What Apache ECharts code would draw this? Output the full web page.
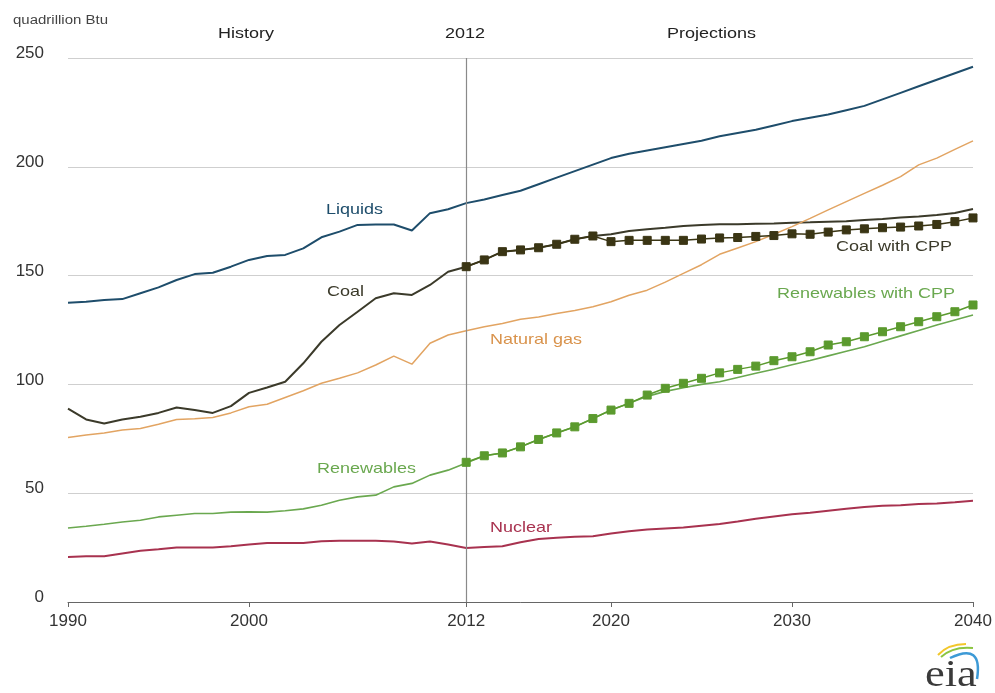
<!DOCTYPE html>
<html>
<head>
<meta charset="utf-8">
<script src="https://cdn.jsdelivr.net/npm/echarts@6/dist/echarts.min.js"></script>
<style>
html,body{margin:0;padding:0;background:#fff;}
#chart{width:995px;height:693px;}
</style>
</head>
<body>
<div id="chart"></div>
<script>
// ---- Data ----
var years = [];
for (var y = 1990; y <= 2040; y++) years.push(String(y));
var tickYears = ['1990', '2000', '2012', '2020', '2030', '2040'];
var yTicks = [0, 50, 100, 150, 200, 250];

// History 1990-2012
var liquidsHist = [137.5, 138, 138.8, 139.2, 141.9, 144.6, 148, 150.7, 151.3, 154.1, 157.2, 159, 159.5, 162.5, 167.6, 170.2, 173.3, 173.5, 173.5, 170.7, 178.7, 180.5, 183.3];
var coalHist = [88.9, 83.9, 82, 83.9, 85.1, 86.9, 89.4, 88.2, 86.9, 90, 96.1, 98.6, 101.2, 109.7, 119.6, 127.3, 133.4, 139.6, 141.9, 141.1, 145.7, 151.8, 154.1];
var gasHist = [75.6, 76.7, 77.7, 79, 79.7, 81.7, 83.9, 84.2, 84.8, 86.9, 89.7, 90.9, 94, 97.1, 100.5, 102.8, 105.3, 108.9, 113, 109.3, 118.9, 122.7, 124.7];
var renewHist = [34, 34.8, 35.7, 36.8, 37.6, 39.1, 39.9, 40.7, 40.7, 41.3, 41.4, 41.3, 41.9, 42.8, 44.5, 46.8, 48.3, 49.1, 52.9, 54.5, 58.3, 60.6, 63.9];
var nuclearHist = [20.7, 21, 21, 22.3, 23.5, 24.2, 25, 25, 25, 25.6, 26.4, 27.1, 27.1, 27.1, 27.9, 28.1, 28.1, 28.1, 27.8, 26.9, 27.8, 26.4, 24.8];

// Projections 2013-2040
var liquidsProj = [185, 187, 189, 192, 195, 198, 201, 204, 206, 207.5, 209, 210.5, 212, 214, 215.5, 217, 219, 221, 222.5, 224, 226, 228, 231, 234, 237, 240, 243, 246];
var coalProj = [157.2, 161, 161.8, 162.8, 164.4, 166.7, 168.2, 169, 170.5, 171.3, 172, 172.8, 173.3, 173.6, 173.6, 173.8, 174, 174.3, 174.5, 174.8, 175, 175.6, 176, 176.7, 177.2, 177.9, 178.8, 180.6];
var gasProj = [126.5, 128, 129.9, 131, 132.6, 134, 135.7, 138, 141, 143.3, 147, 151, 155, 159.8, 162.7, 165.6, 169, 172.5, 176.3, 180.2, 184, 187.8, 191.5, 195.5, 200.9, 204, 208, 211.9];
var renewProj = [67.2, 68.5, 71.3, 74.7, 77.7, 80.5, 84.3, 88.2, 91.3, 94.5, 96.8, 98.5, 100, 101.2, 103.2, 105.1, 107, 109, 111, 113.1, 115.2, 117.3, 119.8, 122.3, 124.8, 127.3, 129.6, 131.9];
var nuclearProj = [25.3, 25.6, 27.5, 29, 29.5, 30, 30.2, 31.5, 32.5, 33.3, 33.8, 34.2, 35, 35.8, 37, 38.3, 39.3, 40.3, 41, 41.9, 42.8, 43.7, 44.2, 44.5, 45, 45.3, 45.8, 46.5];

// Clean Power Plan cases 2012-2040
var coalCPP = [154.1, 157.2, 161, 161.8, 162.8, 164.4, 166.7, 168.2, 165.6, 166.2, 166.2, 166.2, 166.2, 166.8, 167.3, 167.5, 168, 168.4, 169.2, 169, 170, 171, 171.5, 172, 172.3, 172.8, 173.5, 174.8, 176.5];
var renewCPP = [64.2, 67.2, 68.5, 71.3, 74.7, 77.7, 80.5, 84.3, 88.2, 91.3, 95.1, 98.2, 100.5, 102.8, 105.3, 106.9, 108.4, 110.9, 112.7, 115, 118.1, 119.6, 121.9, 124.2, 126.5, 128.8, 131.1, 133.4, 136.5];

// ---- Build ----
function pad(arr) {
  var out = [];
  for (var i = 0; i < years.length - arr.length; i++) out.push(null);
  return out.concat(arr);
}
var liquids = liquidsHist.concat(liquidsProj);
var coal = coalHist.concat(coalProj);
var gas = gasHist.concat(gasProj);
var renew = renewHist.concat(renewProj);
var nuclear = nuclearHist.concat(nuclearProj);

var C = {
  liquids: '#1e4d6b',
  coal: '#3b3a2a',
  gas: '#e2a462',
  renew: '#6aa84f',
  nuclear: '#a8324f',
  coalCPP: '#3a3514',
  renewCPP: '#5b9a2e'
};

var font = 'Liberation Sans, Arial, sans-serif';
var chart = echarts.init(document.getElementById('chart'));

function lineSeries(name, data, color, width, z) {
  return {
    name: name, type: 'line', data: data, symbol: 'none', z: z || 2,
    lineStyle: { color: color, width: width }, itemStyle: { color: color },
    animation: false
  };
}
function cppSeries(name, data, color, z) {
  return {
    name: name, type: 'line', data: pad(data), symbol: 'rect', symbolSize: 8,
    showSymbol: true, z: z,
    lineStyle: { color: color, width: 1.5 },
    itemStyle: { color: color, borderColor: color },
    animation: false
  };
}

// text label: x = left edge, y = vertical centre; slightly widened like the reference
function txt(x, y, text, color, size) {
  return {
    type: 'text', x: x, y: y, scaleX: 1.2, z: 20,
    style: { text: text, fill: color, font: (size || 15) + 'px ' + font, align: 'left', verticalAlign: 'middle' }
  };
}

var option = {
  backgroundColor: '#ffffff',
  animation: false,
  grid: { left: 68, right: 22, top: 58, bottom: 91, containLabel: false },
  xAxis: {
    type: 'category', data: years, boundaryGap: false,
    axisLine: { lineStyle: { color: '#666', width: 1 } },
    axisTick: {
      length: 5, lineStyle: { color: '#666' },
      interval: function (i, v) { return tickYears.indexOf(v) >= 0; }
    },
    axisLabel: {
      interval: function (i, v) { return tickYears.indexOf(v) >= 0; },
      color: '#333', fontSize: 17, fontFamily: font, margin: 11
    },
    splitLine: { show: false }
  },
  yAxis: {
    type: 'value', min: 0, max: 250, interval: 50,
    axisLine: { show: false }, axisTick: { show: false },
    axisLabel: {
      color: '#333', fontSize: 17, fontFamily: font, margin: 24,
      verticalAlign: 'bottom', lineHeight: 9,
      formatter: function (v) { return yTicks.indexOf(v) >= 0 ? String(v) : ''; }
    },
    splitLine: { lineStyle: { color: '#cfcfcf', width: 1.2 } }
  },
  series: [
    (function () {
      var s = lineSeries('Liquids', liquids, C.liquids, 2, 3);
      s.markLine = {
        silent: true, symbol: 'none', label: { show: false },
        lineStyle: { color: '#8a8a8a', width: 1.2, type: 'solid' },
        data: [{ xAxis: '2012' }]
      };
      return s;
    })(),
    lineSeries('Coal', coal, C.coal, 2, 3),
    lineSeries('Natural gas', gas, C.gas, 1.5, 3),
    lineSeries('Renewables', renew, C.renew, 1.6, 3),
    lineSeries('Nuclear', nuclear, C.nuclear, 2, 3),
    cppSeries('Coal with CPP', coalCPP, C.coalCPP, 5),
    cppSeries('Renewables with CPP', renewCPP, C.renewCPP, 5)
  ],
  graphic: [
    txt(13, 21, 'quadrillion Btu', '#444', 12.5),
    txt(218, 34, 'History', '#222', 15),
    txt(445, 34, '2012', '#222', 15),
    txt(667, 34, 'Projections', '#222', 15),
    txt(326, 210, 'Liquids', C.liquids, 15),
    txt(327, 292, 'Coal', C.coal, 15),
    txt(490, 340, 'Natural gas', '#d9934c', 15),
    txt(317, 469, 'Renewables', C.renew, 15),
    txt(490, 528, 'Nuclear', C.nuclear, 15),
    txt(836, 247, 'Coal with CPP', C.coal, 15),
    txt(777, 294, 'Renewables with CPP', C.renew, 15),
    // eia logo
    {
      type: 'bezierCurve', z: 20,
      shape: { x1: 938, y1: 655, x2: 966, y2: 644, cpx1: 948, cpy1: 644 },
      style: { stroke: '#f2c72b', lineWidth: 2, fill: null }
    },
    {
      type: 'bezierCurve', z: 20,
      shape: { x1: 941, y1: 657, x2: 973, y2: 648, cpx1: 953, cpy1: 646 },
      style: { stroke: '#8cc540', lineWidth: 2, fill: null }
    },
    {
      type: 'bezierCurve', z: 20,
      shape: { x1: 950, y1: 658, x2: 977, y2: 679, cpx1: 983, cpy1: 642 },
      style: { stroke: '#3d9ad6', lineWidth: 2.5, fill: null }
    },
    {
      type: 'text', x: 925, y: 676, scaleX: 1.2, z: 21,
      style: { text: 'eia', fill: '#3a3a3a', font: '37px "Liberation Serif", serif', align: 'left', verticalAlign: 'middle' }
    }
  ]
};
chart.setOption(option);
</script>
</body>
</html>
